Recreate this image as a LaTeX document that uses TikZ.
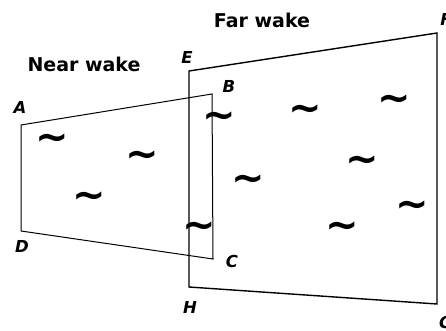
\documentclass[tikz,border=0pt]{standalone}
\usepackage{fontspec}
\setmainfont{DejaVu Sans}
\begin{document}
\begin{tikzpicture}[x=1pt,y=-1pt,
    cornerlabel/.style={font=\fontsize{16.5}{18}\selectfont\bfseries\itshape, inner sep=0pt},
    titlelabel/.style={font=\fontsize{19}{21}\selectfont\bfseries, inner sep=0pt},
    wave/.style={font=\fontsize{40}{40}\selectfont\bfseries, inner sep=0pt}]
    \useasboundingbox (0,0) rectangle (446,331);

    % Corners of the near wake panel
    \coordinate (A) at (21,125);
    \coordinate (B) at (212,94);
    \coordinate (C) at (213,259);
    \coordinate (D) at (21,231);

    % Corners of the far wake panel
    \coordinate (E) at (189,71);
    \coordinate (F) at (437,33);
    \coordinate (G) at (437,304);
    \coordinate (H) at (189,287);

    % Draw panels
    \draw[line width=1pt] (A) -- (B) -- (C) -- (D) -- cycle;
    \draw[line width=1.4pt] (E) -- (F) -- (G) -- (H) -- cycle;

    % Label corners
    \node[cornerlabel] (labA) at (20,107) {A};
    \node[cornerlabel] (labB) at (229,86) {B};
    \node[cornerlabel] (labC) at (232,261) {C};
    \node[cornerlabel] (labD) at (22,246) {D};
    \node[cornerlabel] (labE) at (187,57) {E};
    \node[cornerlabel] (labF) at (446,19) {F};
    \node[cornerlabel] (labG) at (446,322) {G};
    \node[cornerlabel] (labH) at (190,307) {H};

    % Titles
    \node[titlelabel] (near) at (84,64) {Near wake};
    \node[titlelabel] (far) at (262,20) {Far wake};

    % Eddies
    \foreach \x/\y [count=\i] in {52/142, 142/159, 89/200, 219/120, 199/230,
        305/113, 394/103, 362/164, 248/183, 412/209, 342/230}
        \node[wave] (eddy\i) at (\x,\y) {\char"7E};

\end{tikzpicture}
\end{document}
